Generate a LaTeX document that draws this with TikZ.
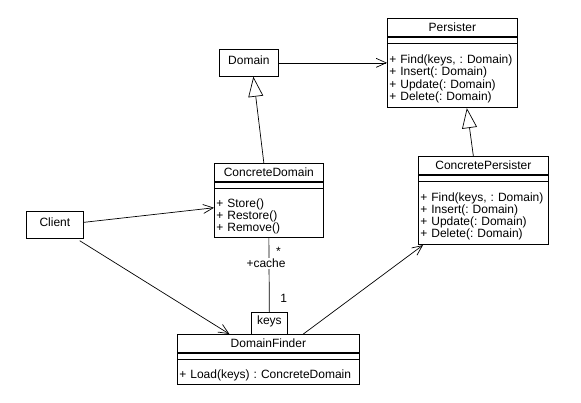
\documentclass[tikz,border=0pt]{standalone}
\usepackage{fontspec}
\setmainfont{Liberation Sans}
\frenchspacing
\usetikzlibrary{arrows.meta}
\tikzset{classname/.style={
  rectangle,draw,anchor=north west,
  inner sep=0pt,minimum height=18pt}}
\tikzset{classattr/.style={
  rectangle,draw,anchor=north west,
  inner sep=0pt,minimum height=6pt}}
\tikzset{classops/.style={
  rectangle,draw,anchor=north west,align=left,
  inner xsep=2pt,inner ysep=0pt,text height=15pt}}
\tikzset{plainbox/.style={
  rectangle,draw,anchor=north west,
  inner sep=0pt,text depth=6pt}}
\tikzset{assoc/.style={-{Straight Barb[length=10pt,width=9pt]}}}
\tikzset{inherit/.style={-{Triangle[open,length=20pt,width=15pt]}}}

\begin{document}
\begin{tikzpicture}[x=1pt,y=-1pt,line width=0.7pt,
    every node/.style={font=\fontsize{12}{12.3}\selectfont}]
  \useasboundingbox (0,0) rectangle (581,402);
  \foreach \n/\p/\w/\h/\o in {
      Persister/{(387,18)}/130pt/64pt/{+ Find(keys, : Domain)\\+ Insert(: Domain)\\+ Update(: Domain)\\+ Delete(: Domain)},
      ConcretePersister/{(418,156)}/130pt/63pt/{+ Find(keys, : Domain)\\+ Insert(: Domain)\\+ Update(: Domain)\\+ Delete(: Domain)},
      ConcreteDomain/{(214,163)}/109pt/49pt/{+ Store()\\+ Restore()\\+ Remove()},
      DomainFinder/{(177,334)}/182pt/25pt/{+ Load(keys) : ConcreteDomain} }
  {
    \node[classname,minimum width=\w] (\n) at \p {\n};
    \node[classattr,minimum width=\w] (\n-attr) at (\n.south west) {};
    \node[classops,minimum width=\w,text width=\w-4pt,minimum height=\h]
      (\n-ops) at (\n-attr.south west) {\o};
  }
  \foreach \n/\p/\w/\h in {
      Domain/{(219,49)}/59pt/27pt,
      Client/{(26,211)}/57pt/27pt,
      keys/{(251,312)}/36pt/22pt}
    \node[plainbox,minimum width=\w,minimum height=\h] (\n) at \p {\n};
  % generalizations
  \draw[inherit] ([xshift=-5pt]ConcreteDomain.north) -- ([xshift=4.5pt]Domain.south);
  \draw[inherit] ([xshift=-10pt]ConcretePersister.north) -- ([xshift=14.5pt]Persister-ops.south);
  % navigable associations
  \draw[assoc] (Domain.east) -- (Domain.east -| Persister.west);
  \draw[assoc] ([yshift=2.5pt]Client.east) -- ([yshift=5.5pt]ConcreteDomain-ops.west);
  \draw[assoc] ([xshift=-4pt,yshift=-2pt]Client.south east) -- ([xshift=-39pt]DomainFinder.north);
  \draw[assoc] ([xshift=35pt]DomainFinder.north) -- ([xshift=5pt]ConcretePersister-ops.south west);
  % qualified association
  \draw (ConcreteDomain-ops.south)
    -- node[pos=0.18,xshift=9.5pt] {*}
       node[pos=0.34,xshift=-3pt,fill=white,inner sep=1pt] {+cache}
       node[pos=0.82,xshift=14.5pt] {1} (keys.north);
\end{tikzpicture}
\end{document}
